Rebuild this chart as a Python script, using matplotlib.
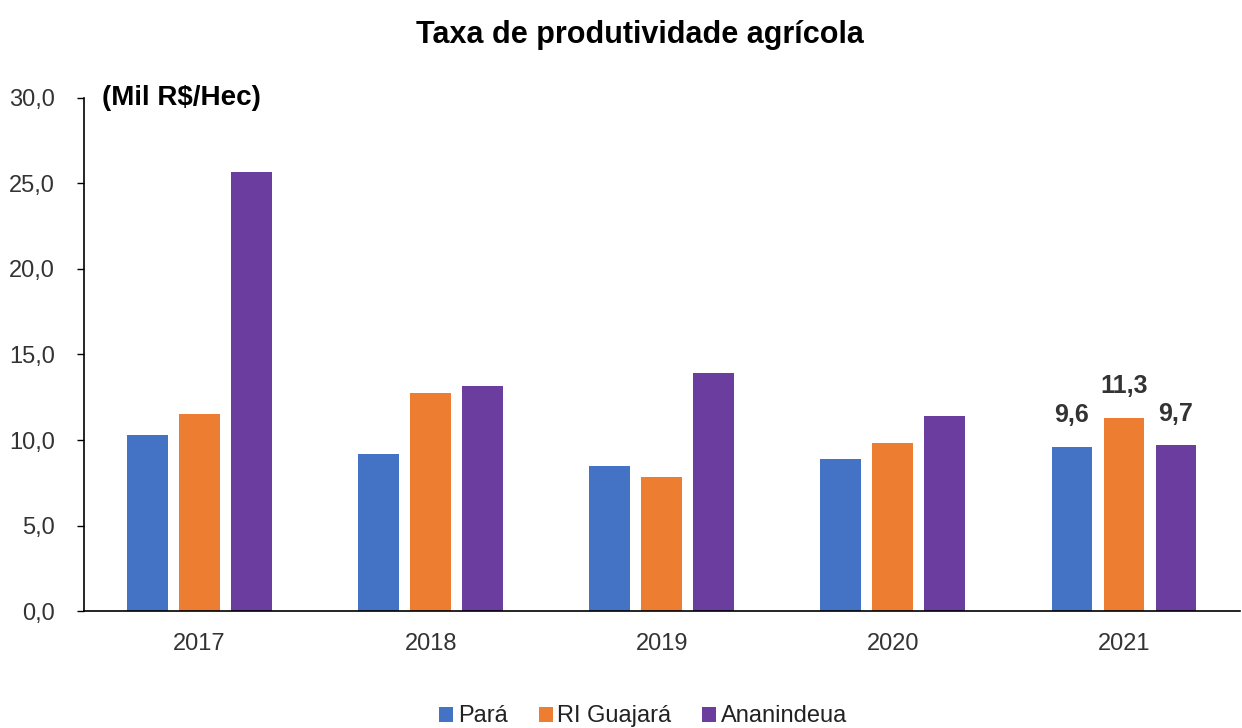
import matplotlib
matplotlib.use("Agg")
import matplotlib.pyplot as plt
import numpy as np
from matplotlib.ticker import FuncFormatter

years = ["2017", "2018", "2019", "2020", "2021"]
series_names = ["Pará", "RI Guajará", "Ananindeua"]
para = [10.3, 9.2, 8.5, 8.9, 9.6]
ri_guajara = [11.5, 12.75, 7.85, 9.8, 11.3]
ananindeua = [25.7, 13.15, 13.9, 11.4, 9.7]
colors = ["#4472C4", "#ED7D31", "#6A3D9F"]
label_year = "2021"

fam = ["Liberation Sans", "DejaVu Sans"]
plt.rcParams['font.family'] = fam

fig = plt.figure(figsize=(12.42, 7.28), dpi=100)
ax = fig.add_axes([0.0676, 0.1607, 0.9304, 0.7047])

x = np.arange(len(years))
width = 0.177
offsets = [-0.225, 0, 0.225]
all_series = [para, ri_guajara, ananindeua]
bars = []
for s, vals, c, off in zip(series_names, all_series, colors, offsets):
    b = ax.bar(x + off, vals, width, color=c, label=s)
    bars.append(b)

idx = years.index(label_year)
for b, vals in zip(bars, all_series):
    rect = b[idx]
    ax.annotate(f"{vals[idx]:.1f}".replace(".", ","),
                (rect.get_x() + rect.get_width() / 2, rect.get_height()),
                xytext=(0, 14), textcoords="offset points",
                ha="center", va="bottom", fontsize=18, fontweight="bold",
                color="#333333")

ax.set_xlim(-0.5, 4.5)
ax.set_ylim(0, 30)
ax.set_yticks(np.arange(0, 30.1, 5))
ax.yaxis.set_major_formatter(FuncFormatter(lambda v, p: f"{v:.1f}".replace(".", ",")))
ax.set_xticks(x)
ax.set_xticklabels(years)
ax.tick_params(axis="y", labelsize=17, length=5, width=1, color="black", pad=16, labelcolor="#333333")
ax.tick_params(axis="x", labelsize=17, length=0, pad=16, labelcolor="#333333")
for sp in ["top", "right"]:
    ax.spines[sp].set_visible(False)
ax.spines["left"].set_linewidth(1.2)
ax.spines["bottom"].set_linewidth(1.2)

fig.text(0.515, 0.952, "Taxa de produtividade agrícola", ha="center", va="center",
         fontsize=22, fontweight="bold", color="black")
ax.text(0.016, 1.0, "(Mil R$/Hec)", transform=ax.transAxes, ha="left", va="center",
        fontsize=20, fontweight="bold", color="black")

leg = fig.legend(loc="center", bbox_to_anchor=(0.518, 0.016), ncol=3, frameon=False,
                 fontsize=17, handlelength=0.6, handleheight=0.6, handletextpad=0.2,
                 columnspacing=1.3)
for t in leg.get_texts():
    t.set_color("#222222")

fig.savefig("out.png", dpi=100)
